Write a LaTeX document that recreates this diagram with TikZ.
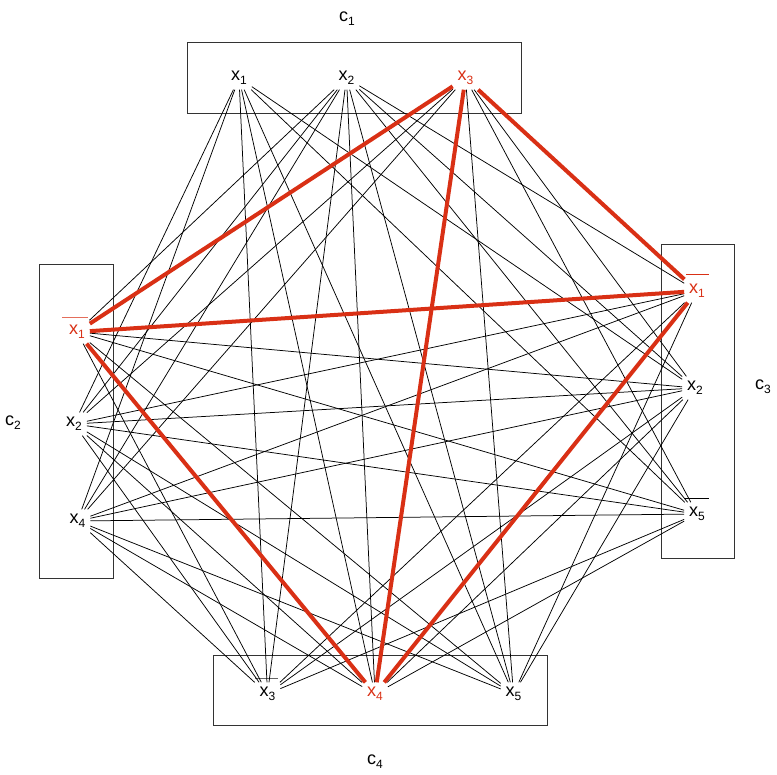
\documentclass[tikz,border=0pt]{standalone}
\usepackage{fontspec}
\setmainfont{Liberation Sans}
\definecolor{hred}{RGB}{217,48,21}
\newcommand\lit[2]{#1\raisebox{-0.4ex}{\fontsize{12}{12}\selectfont #2}}
\begin{document}
\begin{tikzpicture}[x=1pt,y=-1pt,
  lit/.style={font=\fontsize{18}{18}\selectfont, inner sep=2.5pt, outer sep=2.5pt},
  redlit/.style={lit,text=hred},
  cname/.style={font=\fontsize{18}{18}\selectfont},
  clause/.style={draw=black!80, line width=0.9pt},
  edge/.style={draw=black, line width=0.75pt},
  redge/.style={draw=hred, line width=4pt},
  bar/.style={line width=1pt}]
\useasboundingbox (0,0) rectangle (777,775);
% clause boxes
\draw[clause] (187,42.5) rectangle (521.5,113);
\draw[clause] (39.5,264) rectangle (113,578);
\draw[clause] (661,244.5) rectangle (734,558);
\draw[clause] (213,655.5) rectangle (547.5,725.5);
% clause names
\node[cname] (n1) at (347,19) {\lit{c}{1}};
\node[cname] (n2) at (13,423) {\lit{c}{2}};
\node[cname] (n3) at (763,387) {\lit{c}{3}};
\node[cname] (n4) at (375,762) {\lit{c}{4}};
% literals
\node[lit] (a1) at (239,78) {\lit{x}{1}};
\node[lit] (a2) at (346.5,78) {\lit{x}{2}};
\node[redlit] (a3) at (465.5,78) {\lit{x}{3}};
\node[redlit] (b1) at (77,332) {\lit{x}{1}};
\node[lit] (b2) at (74,424) {\lit{x}{2}};
\node[lit] (b4) at (77.5,521) {\lit{x}{4}};
\node[redlit] (d1) at (697,291) {\lit{x}{1}};
\node[lit] (d2) at (695,388) {\lit{x}{2}};
\node[lit] (d5) at (697,514) {\lit{x}{5}};
\node[lit] (e3) at (267.5,694) {\lit{x}{3}};
\node[redlit] (e4) at (375,694) {\lit{x}{4}};
\node[lit] (e5) at (513.5,694) {\lit{x}{5}};
% negation bars
\coordinate (b1l) at (62,318); \coordinate (b1r) at (88,318);
\coordinate (d1l) at (686,275); \coordinate (d1r) at (709,275);
\coordinate (d5l) at (684,499); \coordinate (d5r) at (709,499);
\coordinate (e3l) at (255,678); \coordinate (e3r) at (278,678);
\draw[bar,draw=hred!70] (b1l) -- (b1r);
\draw[bar,draw=hred] (d1l) -- (d1r);
\draw[bar,draw=black] (d5l) -- (d5r);
\draw[bar,draw=black!60] (e3l) -- (e3r);
% black edges
\foreach \u/\v in {a1/b2,a1/b4,a2/b1,a2/b2,a2/b4,a3/b2,a3/b4,
  a1/d2,a1/d5,a2/d1,a2/d2,a2/d5,a3/d2,a3/d5,
  a1/e3,a1/e4,a1/e5,a2/e3,a2/e4,a2/e5,a3/e5,
  b2/d1,b2/d2,b2/d5,b4/d1,b4/d2,b4/d5,b1/d2,b1/d5,
  b1/e3,b1/e5,b2/e3,b2/e4,b2/e5,b4/e3,b4/e4,b4/e5,
  d1/e3,d1/e5,d2/e3,d2/e4,d2/e5,d5/e3,d5/e4}
  \draw[edge] (\u) -- (\v);
% red edges
\foreach \u/\v in {a3/b1,a3/d1,a3/e4,b1/d1,b1/e4,d1/e4}
  \draw[redge] (\u) -- (\v);
\end{tikzpicture}
\end{document}
